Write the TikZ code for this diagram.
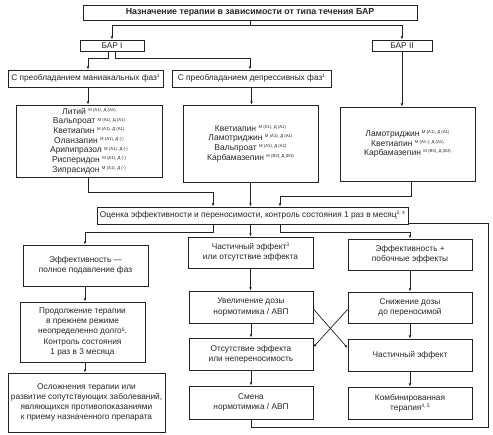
\documentclass[tikz,border=0pt]{standalone}
\usepackage{fontspec}
\setmainfont{Liberation Sans}
\usetikzlibrary{arrows.meta}
\definecolor{ink}{HTML}{222222}
\definecolor{txt}{HTML}{262626}
\newcommand\dsup[1]{\raisebox{2.8pt}{\fontsize{4.3}{5}\selectfont #1}}
\newcommand\fsup[1]{\raisebox{2.9pt}{\fontsize{5}{6}\selectfont #1}}
\begin{document}
\begin{tikzpicture}[x=1pt,y=-1pt,
  bx/.style={draw=ink,line width=0.9pt,align=center,inner sep=1pt,text=txt,
    font=\fontsize{8.3}{10.2}\selectfont},
  lst/.style={bx,font=\fontsize{8.5}{9.7}\selectfont},
  con/.style={draw=ink,line width=0.7pt},
  arr/.style={con,-{Latex[length=3.2pt,width=2.6pt]}}]
\useasboundingbox[fill=white] (0,0) rectangle (493,435);
% top
\node[bx,font=\bfseries\fontsize{8.8}{10}\selectfont,minimum width=334pt,minimum height=15pt] (title) at (250,12.5) {Назначение терапии в зависимости от типа течения БАР};
\node[bx,minimum width=64pt,minimum height=11pt] (bar1) at (112,45.5) {БАР I};
\node[bx,minimum width=60pt,minimum height=11pt] (bar2) at (402,45.5) {БАР II};
\node[bx,minimum width=155pt,minimum height=17pt] (man) at (85.5,78.5) {С преобладанием маниакальных фаз\fsup{1}};
\node[bx,minimum width=159pt,minimum height=17pt] (dep) at (251.5,78.5) {С преобладанием депрессивных фаз\fsup{1}};
% drugs
\node[lst,minimum width=146pt,minimum height=72pt] (d1) at (89,141) {%
Литий \dsup{M (A1), Д (A1)}\\
Вальпроат \dsup{M (A1), Д (A1)}\\
Кветиапин \dsup{M (A1), Д (A1)}\\
Оланзапин \dsup{M (A1), Д (-)}\\
Арипипразол \dsup{M (A1), Д (-)}\\
Рисперидон \dsup{M (A1), Д (-)}\\
Зипрасидон \dsup{M (A1), Д (-)}};
\node[lst,minimum width=135pt,minimum height=77pt] (d2) at (250.5,143.5) {%
Кветиапин \dsup{M (A1), Д (A1)}\\
Ламотриджин \dsup{M (A1), Д (A1)}\\
Вальпроат \dsup{M (A1), Д (A1)}\\
Карбамазепин \dsup{M (B3), Д (B3)}};
\node[lst,minimum width=135pt,minimum height=74pt] (d3) at (407.5,144) {%
Ламотриджин \dsup{M (A1), Д (A1)}\\
Кветиапин \dsup{M (A1-), Д (A1)}\\
Карбамазепин \dsup{M (B3), Д (B3)}};
% evaluation
\node[bx,minimum width=311pt,minimum height=17pt] (eval) at (252.5,215.5) {Оценка эффективности и переносимости, контроль состояния 1 раз в месяц\fsup{2, 4}};
% left column
\node[bx,minimum width=125pt,minimum height=41pt] (e1) at (85.5,265.5) {Эффективность —\\полное подавление фаз};
\node[bx,minimum width=125pt,minimum height=60pt] (p1) at (82.5,332) {Продолжение терапии\\в прежнем режиме\\неопределенно долго\fsup{6}.\\Контроль состояния\\1 раз в 3 месяца};
\node[bx,minimum width=157pt,minimum height=59pt] (o1) at (86.5,402.5) {Осложнения терапии или\\развитие сопутствующих заболеваний,\\являющихся противопоказаниями\\к приему назначенного препарата};
% middle column
\node[bx,minimum width=125pt,minimum height=31pt] (m1) at (250.5,252.5) {Частичный эффект\fsup{3}\\или отсутствие эффекта};
\node[bx,minimum width=124pt,minimum height=32pt] (m2) at (251,307) {Увеличение дозы\\нормотимика / АВП};
\node[bx,minimum width=124pt,minimum height=32pt] (m3) at (251,354) {Отсутствие эффекта\\или непереносимость};
\node[bx,minimum width=124pt,minimum height=33pt] (m4) at (251,402.5) {Смена\\нормотимика / АВП};
% right column
\node[bx,minimum width=124pt,minimum height=31pt] (r1) at (410,254.5) {Эффективность +\\побочные эффекты};
\node[bx,minimum width=124pt,minimum height=31pt] (r2) at (410,307.5) {Снижение дозы\\до переносимой};
\node[bx,minimum width=124pt,minimum height=32pt] (r3) at (410,355) {Частичный эффект};
\node[bx,minimum width=124pt,minimum height=32pt] (r4) at (410,403) {Комбинированная\\терапия\fsup{4, 5}};
% connectors top
\draw[con] (title.south) -- ++(0,5) coordinate (t1);
\draw[arr] (t1) -| (bar1.north);
\draw[arr] (t1) -| (bar2.north);
\draw[arr] ([xshift=-4pt]bar1.south) -- ++(0,7) -| ([xshift=2.5pt]man.north);
\draw[arr] ([xshift=3pt]bar1.south) -- ++(0,7) -| ([xshift=-1.5pt]dep.north);
\draw[arr] (bar2.south) -- (bar2.south |- d3.north);
\draw[arr] ([xshift=2.5pt]man.south) -- ([xshift=2.5pt]man.south |- d1.north);
\draw[arr] (dep.south) -- (dep.south |- d2.north);
% to evaluation
\draw[arr] ([xshift=-1pt]d1.south) -- ++(0,15) -| ([xshift=-39.5pt]eval.north);
\draw[arr] (d2.south) -- (d2.south |- eval.north);
\draw[arr] ([xshift=3.5pt]d3.south) -- ++(0,15) -| ([xshift=27.5pt]eval.north);
% from evaluation
\draw[arr] ([xshift=-39.5pt]eval.south) -- ++(0,8) -| ([xshift=-0.5pt]e1.north);
\draw[arr] (m1.north |- eval.south) -- (m1.north);
\draw[arr] ([xshift=27.5pt]eval.south) -- ++(0,8) -| (r1.north);
% left column
\draw[arr] ([xshift=-0.5pt]e1.south) -- ([xshift=-0.5pt]e1.south |- p1.north);
\draw[arr] ([xshift=2.5pt]p1.south) -- ([xshift=2.5pt]p1.south |- o1.north);
% middle column
\draw[arr] (m1.south) -- (m1.south |- m2.north);
\draw[arr] (m2.south) -- (m3.north);
\draw[arr] (m3.south) -- (m4.north);
% right column
\draw[arr] (r1.south) -- (r2.north);
\draw[arr] (r2.south) -- (r3.north);
\draw[arr] (r3.south) -- (r4.north);
% cross
\draw[arr] ([yshift=-2pt]m2.east) -- ([yshift=7pt]r3.west);
\draw[arr] ([yshift=-2pt]r2.west) -- ([yshift=7pt]m3.east);
% loop
\coordinate (lp) at (488,427);
\draw[con] (m4.south) |- (lp) |- ([yshift=-7.5pt]eval.east);
\end{tikzpicture}
\end{document}
